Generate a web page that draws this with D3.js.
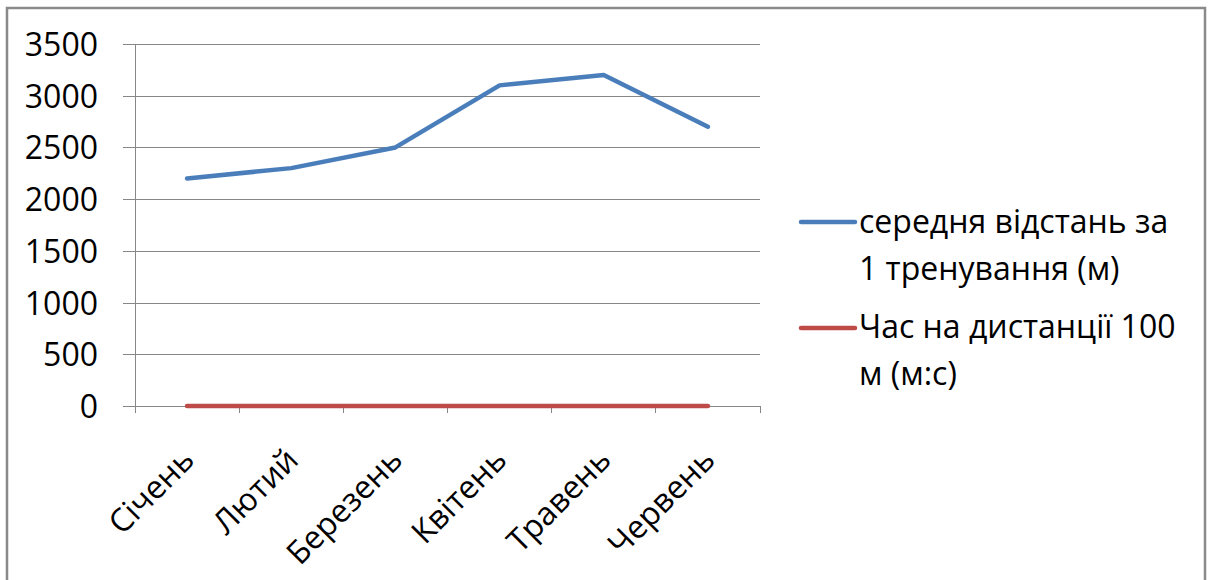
<!DOCTYPE html>
<html>
<head>
<meta charset="utf-8">
<script src="https://cdn.jsdelivr.net/npm/d3@7"></script>
<style>
  html, body { margin: 0; padding: 0; background: #fff; }
  svg { display: block; }
  text { font-family: "Open Sans", "Noto Sans", sans-serif; fill: #000; }
</style>
</head>
<body>
<svg id="chart" width="1208" height="580"></svg>
<script>
// ---- data ----
const categories = ["Січень", "Лютий", "Березень", "Квітень", "Травень", "Червень"];
const distanceValues = [2200, 2300, 2500, 3100, 3200, 2700];   // середня відстань за 1 тренування (м)
const timeValues = [0, 0, 0, 0, 0, 0];                         // Час на дистанції 100 м (м:с) – sits on the zero line
const yTicks = [0, 500, 1000, 1500, 2000, 2500, 3000, 3500];
const seriesNames = [
  ["середня відстань за", "1 тренування (м)"],
  ["Час на дистанції 100", "м (м:с)"]
];
const seriesColors = ["#4A7EBB", "#BE4B48"];

// ---- layout ----
const svg = d3.select("#chart");
const plot = { left: 135, right: 760, top: 44, bottom: 406 };
const fontSize = 32;
const gridColor = "#878787";

// outer frame
svg.append("rect")
  .attr("x", 7).attr("y", 8)
  .attr("width", 1198).attr("height", 590)
  .attr("fill", "#fff")
  .attr("stroke", "#8a8a8a")
  .attr("stroke-width", 2.5);

const x = d3.scaleBand().domain(categories).range([plot.left, plot.right]).padding(0);
const y = d3.scaleLinear().domain([0, 3500]).range([plot.bottom, plot.top]);

// horizontal gridlines + y tick labels via axis
const yAxis = d3.axisLeft(y)
  .tickValues(yTicks)
  .tickSize(-(plot.right - plot.left + 12))
  .tickPadding(0)
  .tickFormat(d3.format("d"));

const gy = svg.append("g")
  .attr("transform", `translate(${plot.left - 12},0)`)
  .call(yAxis);
gy.select(".domain").remove();
gy.selectAll(".tick line").attr("stroke", gridColor).attr("stroke-width", 1).attr("shape-rendering", "crispEdges");
gy.selectAll(".tick text")
  .attr("x", -25)
  .attr("dy", "0.36em")
  .style("font-size", fontSize + "px")
  .style("font-family", "'Open Sans', sans-serif")
  .attr("fill", "#000");

// vertical y-axis line
svg.append("line")
  .attr("x1", plot.left).attr("x2", plot.left)
  .attr("y1", plot.top).attr("y2", plot.bottom + 7)
  .attr("stroke", gridColor).attr("stroke-width", 1)
  .attr("shape-rendering", "crispEdges");

// x-axis tick marks at band boundaries
const boundaries = categories.map(c => x(c)).concat([plot.right]);
svg.append("g").selectAll("line")
  .data(boundaries)
  .join("line")
  .attr("x1", d => d).attr("x2", d => d)
  .attr("y1", plot.bottom).attr("y2", plot.bottom + 7)
  .attr("stroke", gridColor).attr("stroke-width", 1)
  .attr("shape-rendering", "crispEdges");

// x category labels, rotated -45
svg.append("g").selectAll("text")
  .data(categories)
  .join("text")
  .attr("text-anchor", "end")
  .attr("transform", d => `translate(${x(d) + x.bandwidth() / 2 + 9},${plot.bottom + 56}) rotate(-45)`)
  .style("font-size", fontSize + "px")
  .text(d => d);

// lines
const line = d3.line()
  .x((d, i) => x(categories[i]) + x.bandwidth() / 2)
  .y(d => y(d));

[distanceValues, timeValues].forEach((vals, si) => {
  svg.append("path")
    .datum(vals)
    .attr("d", line)
    .attr("fill", "none")
    .attr("stroke", seriesColors[si])
    .attr("stroke-width", 4.5)
    .attr("stroke-linejoin", "round")
    .attr("stroke-linecap", "round");
});

// legend
const legendRows = [
  { lineY: 222, baselines: [233, 280] },
  { lineY: 328, baselines: [338, 385] }
];
legendRows.forEach((r, i) => {
  svg.append("line")
    .attr("x1", 801).attr("x2", 855)
    .attr("y1", r.lineY).attr("y2", r.lineY)
    .attr("stroke", seriesColors[i])
    .attr("stroke-width", 4.5)
    .attr("stroke-linecap", "round");
  seriesNames[i].forEach((t, j) => {
    svg.append("text")
      .attr("x", 859)
      .attr("y", r.baselines[j])
      .style("font-size", fontSize + "px")
      .text(t);
  });
});
</script>
</body>
</html>
